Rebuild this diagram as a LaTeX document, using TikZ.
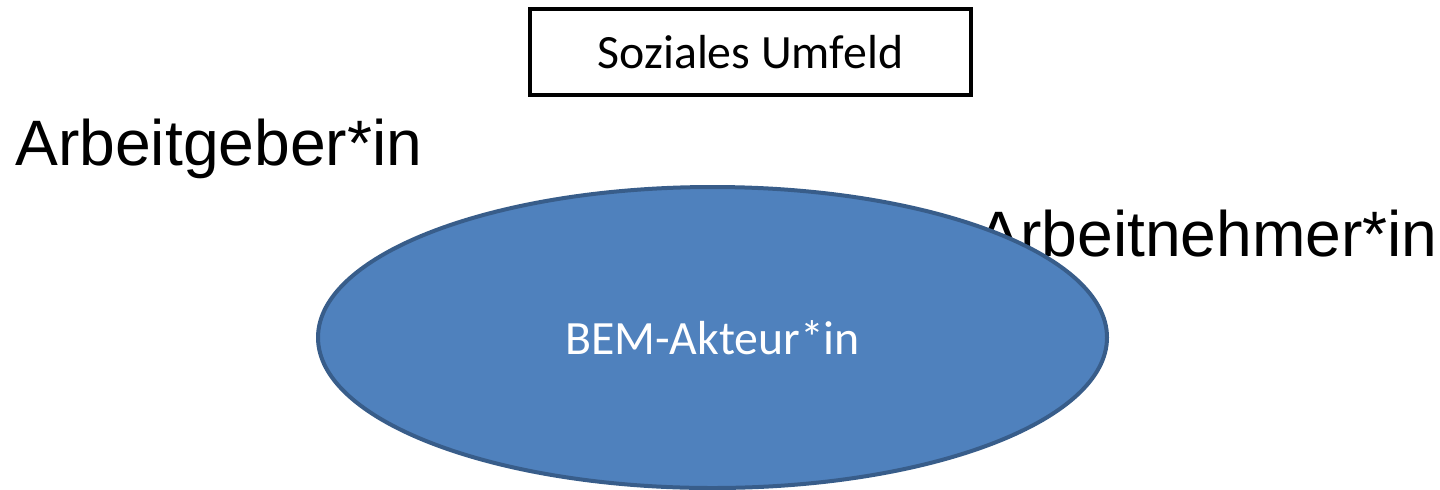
\documentclass[tikz,border=0pt]{standalone}
\usepackage{fontspec}
\usetikzlibrary{shapes.geometric}
\setmainfont{Carlito}
\newfontfamily\arialfont{Liberation Sans}
\definecolor{bemfill}{HTML}{4F81BD}
\definecolor{bemline}{HTML}{385D8A}

\begin{document}
\begin{tikzpicture}[x=0.5pt,y=-0.5pt,
    umfeld/.style={draw,line width=2pt,minimum width=220.5pt,minimum height=43pt,inner sep=0pt,font=\fontsize{23.9}{28}\selectfont},
    rolle/.style={anchor=base west,inner sep=0pt,font=\arialfont\fontsize{32.1}{38}\selectfont},
    akteur/.style={ellipse,draw=bemline,fill=bemfill,line width=2pt,minimum width=394.5pt,minimum height=150.5pt,text=white,font=\fontsize{23.9}{28}\selectfont}]
\useasboundingbox (0,0) rectangle (1440,489);
    \node[umfeld] (SU) at (750.5,52) {Soziales Umfeld};
    \node[rolle] (AG) at (15,165) {Arbeitgeber*in};
    \node[rolle] (AN) at (977,256) {Arbeitnehmer*in};
    % ellipse lies over the second label
    \node[akteur] (BEM) at (712.5,337.5) {BEM-Akteur*in};
\end{tikzpicture}
\end{document}
